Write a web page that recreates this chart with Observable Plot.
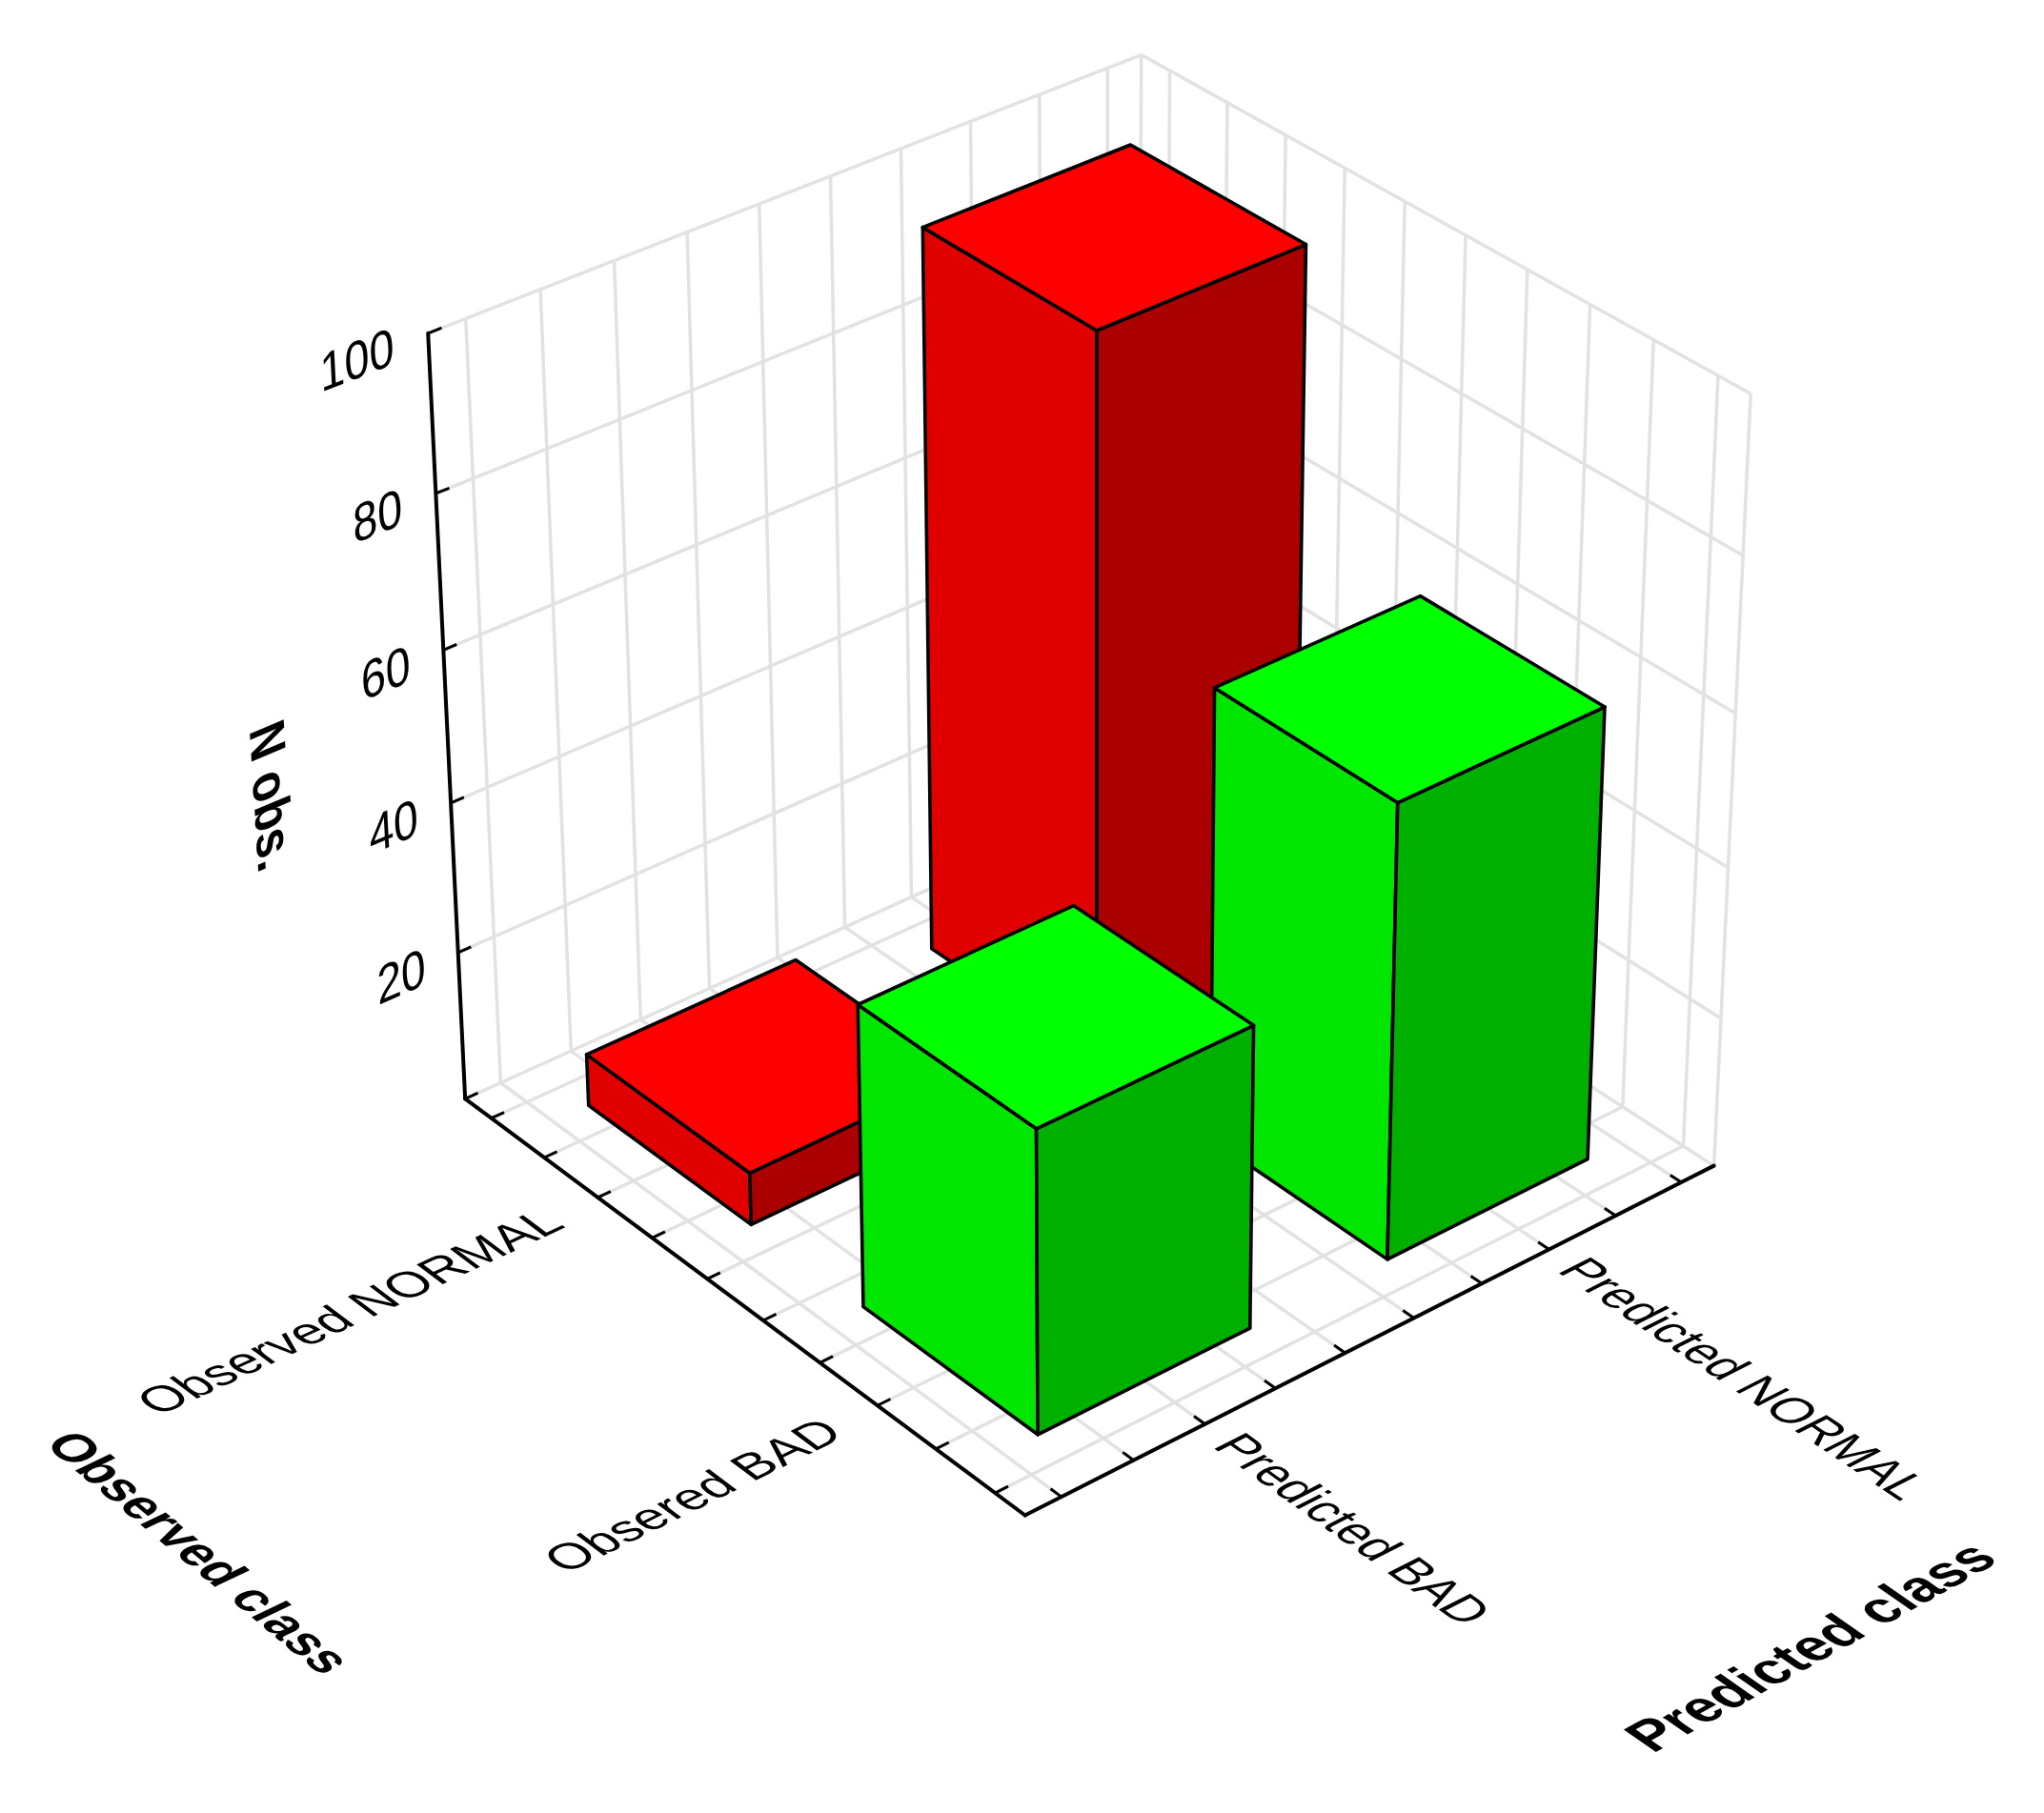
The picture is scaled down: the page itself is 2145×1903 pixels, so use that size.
<!DOCTYPE html>
<html><head><meta charset="utf-8">
<style>html,body{margin:0;background:#fff}svg{display:block}</style>
<script src="https://cdn.jsdelivr.net/npm/d3@7"></script>
<script src="https://cdn.jsdelivr.net/npm/@observablehq/plot@0.6"></script>
</head><body><div id="chart"></div>
<script>
// Chart values
const observedClasses = ["Observed NORMAL", "Obsered BAD"];
const predictedClasses = ["Predicted BAD", "Predicted NORMAL"];
const countsNormal = [7, 96];   // Observed NORMAL × [Predicted BAD, Predicted NORMAL]
const countsBad = [40, 60];     // Obsered BAD × [Predicted BAD, Predicted NORMAL]
const countTicks = [20, 40, 60, 80, 100];
const axisTitleObserved = "Observed class";
const axisTitlePredicted = "Predicted class";
const axisTitleCount = "N obs.";

// Shades: [top, left face, right face]
const redShades = ["#ff0000", "#e00000", "#aa0000"];
const greenShades = ["#00ff00", "#00e600", "#00b000"];

// View: perspective camera matrix (class axes in 0..1, count in 0..100)
const camera = [
  [513.4196, 774.2044, -63.85418, 487.6575],
  [327.6336, -272.8556, -822.9028, 1152.811],
  [-0.06891037, 0.05619923, -0.05548742, 1]
];
const WIDTH = 2145, HEIGHT = 1903;
function project(u, v, n) {
  const z = n / 100, r = camera;
  const w = r[2][0] * u + r[2][1] * v + r[2][2] * z + r[2][3];
  return [(r[0][0] * u + r[0][1] * v + r[0][2] * z + r[0][3]) / w,
          (r[1][0] * u + r[1][1] * v + r[1][2] * z + r[1][3]) / w];
}
const px = (p) => project(...p)[0], py = (p) => project(...p)[1];

// Grid and axis segments, in chart coordinates
const classTicks = d3.range(10).map((i) => (i + 0.5) / 10);
const grid = [];
for (const t of classTicks) {
  grid.push([[t, 0, 0], [t, 1, 0]], [[0, t, 0], [1, t, 0]]);
  grid.push([[0, t, 0], [0, t, 100]], [[t, 1, 0], [t, 1, 100]]);
}
for (const n of countTicks) grid.push([[0, 0, n], [0, 1, n]], [[0, 1, n], [1, 1, n]]);
grid.push([[0, 0, 0], [0, 1, 0]], [[0, 1, 0], [1, 1, 0]], [[0, 1, 0], [0, 1, 100]], [[1, 1, 0], [1, 1, 100]]);

const axes = [[[0, 0, 0], [0, 0, 100]], [[0, 0, 0], [1, 0, 0]], [[1, 0, 0], [1, 1, 0]]];
const ticks = [];
for (const t of classTicks) ticks.push([[t, 0, 0], [t, 0.018, 0]], [[1, t, 0], [0.982, t, 0]]);
for (const n of [0, ...countTicks]) ticks.push([[0, 0, n], [0, 0.018, n]]);

// Bars, painted back to front
const faces = [];
[countsNormal, countsBad].forEach((row, i) => {
  const shades = i === 0 ? redShades : greenShades;
  [1, 0].forEach((j) => {
    const u0 = 0.1 + i * 0.5, u1 = u0 + 0.3, v0 = 0.1 + j * 0.5, v1 = v0 + 0.3, n = row[j];
    const add = (name, color, pts) => [...pts, pts[0]].forEach((p) =>
      faces.push({id: `${i}${j}${name}`, color, p}));
    add("left", shades[1], [[u0, v0, 0], [u1, v0, 0], [u1, v0, n], [u0, v0, n]]);
    add("right", shades[2], [[u1, v0, 0], [u1, v1, 0], [u1, v1, n], [u1, v0, n]]);
    add("top", shades[0], [[u0, v0, n], [u1, v0, n], [u1, v1, n], [u0, v1, n]]);
  });
});

// Text lying in the chart's planes: along/up are the in-plane axis directions
const AXIS = {u: [1, 0, 0], "-u": [-1, 0, 0], v: [0, 1, 0], z: [0, 0, 100], "-z": [0, 0, -100]};
function direction(p, axis) {
  const d = AXIS[axis], e = 0.02;
  const a = project(...p), b = project(p[0] + d[0] * e, p[1] + d[1] * e, p[2] + d[2] * e);
  const h = Math.hypot(b[0] - a[0], b[1] - a[1]);
  return [(b[0] - a[0]) / h, (b[1] - a[1]) / h];
}
function planeText(rows, {anchor, weight}) {
  return Plot.text(rows, {
    x: (d) => px(d.p), y: (d) => py(d.p), text: "text",
    fontSize: 40, fontWeight: weight, textAnchor: anchor, fill: "#000",
    render(index, scales, values, dims, context, next) {
      const g = next(index, scales, values, dims, context);
      d3.select(g).selectAll("text").each(function (i) {
        const d = rows[i], a = direction(d.p, d.along), b = direction(d.p, d.up);
        const m = [a[0] * d.sx, a[1] * d.sx, -b[0] * d.sy, -b[1] * d.sy].join(" ");
        this.setAttribute("transform", `${this.getAttribute("transform") || ""} matrix(${m} 0 0)`);
      });
      return g;
    }
  });
}
const observedLabels = observedClasses.map((text, i) => ({text, p: [0.25 + i * 0.5, -0.06, 0], along: "v", up: "-u", sx: 1.33, sy: 1.25}));
const predictedLabels = predictedClasses.map((text, j) => ({text, p: [1.035, 0.25 + j * 0.5, 0], along: "u", up: "v", sx: 1.24, sy: 1.35}));
const countLabels = countTicks.map((n) => ({text: String(n), p: [0, -0.045, n], along: "v", up: "z", sx: 1.25, sy: 1.4}));
const titles = [
  {text: axisTitleObserved, p: [0.495, -0.71, 0], along: "u", up: "v", sx: 1.29, sy: 1.4},
  {text: axisTitlePredicted, p: [1.69, 0.485, 0], along: "v", up: "-u", sx: 1.42, sy: 1.5},
  {text: axisTitleCount, p: [0, -0.238, 50.7], along: "-z", up: "v", sx: 1.24, sy: 1.4}
];

const segment = (data, options) => Plot.link(data, {
  x1: (d) => px(d[0]), y1: (d) => py(d[0]), x2: (d) => px(d[1]), y2: (d) => py(d[1]), ...options
});

const chart = Plot.plot({
  width: WIDTH, height: HEIGHT, margin: 0,
  x: {domain: [0, WIDTH], range: [0, WIDTH], axis: null},
  y: {domain: [0, HEIGHT], range: [0, HEIGHT], axis: null},
  color: {type: "identity"},
  style: {background: "#fff", fontFamily: "'Liberation Sans', Arial, sans-serif"},
  marks: [
    segment(grid, {stroke: "#e2e2e2", strokeWidth: 3.5}),
    segment(ticks, {stroke: "#000", strokeWidth: 3}),
    segment(axes, {stroke: "#000", strokeWidth: 4, strokeLinecap: "round"}),
    Plot.line(faces, {
      x: (d) => px(d.p), y: (d) => py(d.p), z: "id", fill: "color",
      stroke: "#000", strokeWidth: 3.6, strokeLinejoin: "round"
    }),
    planeText(observedLabels, {anchor: "end", weight: 400}),
    planeText(predictedLabels, {anchor: "start", weight: 400}),
    planeText(countLabels, {anchor: "end", weight: 400}),
    planeText(titles, {anchor: "middle", weight: 700})
  ]
});
document.getElementById("chart").append(chart);
</script></body></html>
